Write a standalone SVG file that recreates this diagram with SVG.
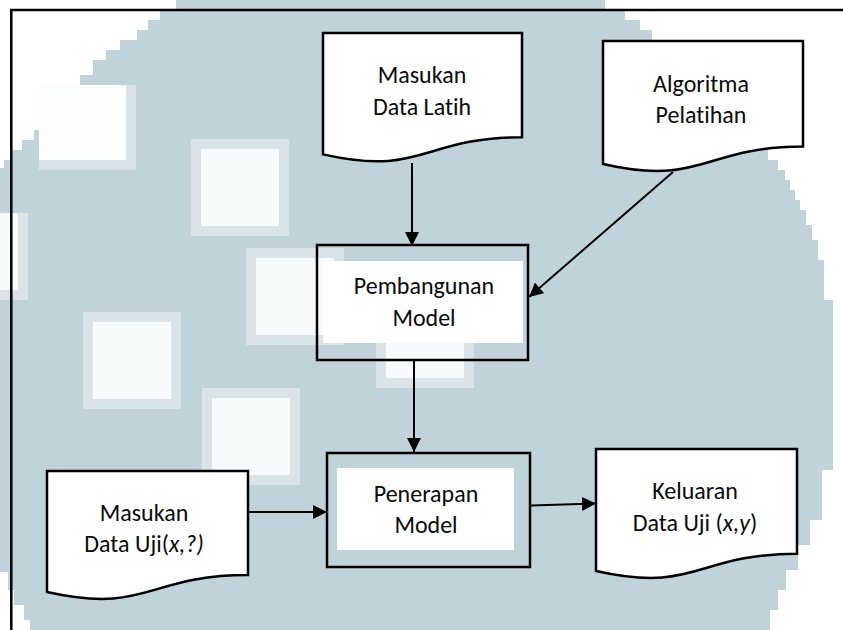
<svg xmlns="http://www.w3.org/2000/svg" width="843" height="630" viewBox="0 0 843 630">
  <style>
    .wm { fill: #c1d3da; }
    .sq-ring { fill: #dae4e8; }
    .sq-core { fill: #f8fbfc; }
    .doc { fill: #ffffff; stroke: #000000; stroke-width: 2.5; stroke-linejoin: miter; }
    .box { fill: none; stroke: #000000; stroke-width: 2.5; }
    .inner { fill: #ffffff; }
    .lbl { font-family: Calibri, Carlito, Lato, sans-serif; font-size: 24px; fill: #0a0a0a; text-anchor: middle; font-variant-ligatures: none; }
    .conn { stroke: #000000; stroke-width: 2; fill: none; marker-end: url(#arrow); }
    .frame { stroke: #000000; stroke-width: 2.5; fill: none; }
  </style>
  <defs>
    <marker id="arrow" markerUnits="userSpaceOnUse" markerWidth="15" markerHeight="14" refX="14" refY="7" orient="auto">
      <path d="M0,0 L14,7 L0,14 z" fill="#000000"/>
    </marker>
    <g id="square">
      <rect class="sq-ring" x="0" y="0" width="98" height="97"/>
      <rect class="sq-core" x="10" y="10" width="78" height="77"/>
    </g>
  </defs>

  <!-- page background -->
  <rect x="0" y="0" width="843" height="630" fill="#ffffff"/>

  <!-- pixelated backdrop emblem -->
  <g id="backdrop">
    <path class="wm" d="M176,0 H605 V10 H625 V20 H640 V30 H652 V40 H662 V50 H690 V140 H760 V150 H768 V160 H778 V170 H785 V180 H790 V190 H795 V200 H800 V210 H806 V225 H812 V240 H818 V260 H824 V300 H833 V470 H822 V520 H810 V545 H798 V570 H786 V590 H778 V610 H770 V630 H30 V620 H24 V605 H14 V590 H8 V572 H0 V168 H4 V160 H12 V150 H22 V140 H34 V130 H60 V85 H80 V75 H93 V60 H106 V50 H120 V40 H137 V30 H148 V20 H160 V10 H176 Z"/>
    <rect x="0" y="213" width="28" height="87" class="sq-core"/>
    <rect x="18" y="213" width="10" height="87" class="sq-ring"/>
    <rect x="0" y="290" width="28" height="10" class="sq-ring"/>
    <rect x="39" y="85" width="97" height="85" class="sq-ring"/>
    <rect x="39" y="85" width="87" height="75" fill="#fbfdfe"/>
    <use href="#square" x="191" y="139"/>
    <use href="#square" x="246" y="248"/>
    <use href="#square" x="83" y="312"/>
    <use href="#square" x="202" y="388"/>
    <use href="#square" x="376" y="291"/>
  </g>

  <!-- outer frame -->
  <g id="frame">
    <path class="frame" d="M10,10 H843 M11.3,9 V630"/>
  </g>

  <!-- connectors -->
  <g id="connectors">
    <line class="conn" x1="412" y1="163" x2="412" y2="246"/>
    <line class="conn" x1="673" y1="172" x2="529" y2="297"/>
    <line class="conn" x1="414" y1="361" x2="414" y2="452"/>
    <line class="conn" x1="249" y1="512" x2="327" y2="512"/>
    <line class="conn" x1="531" y1="505.5" x2="596" y2="503.5"/>
  </g>

  <!-- input document: training data -->
  <g id="masukan-data-latih">
    <path class="doc" d="M323,33 H522 V137.3 C422.5,137.3 422.5,177 323,154.4 Z"/>
    <text class="lbl" x="422" y="83">Masukan</text>
    <text class="lbl" x="422" y="115">Data Latih</text>
  </g>

  <!-- input document: training algorithm -->
  <g id="algoritma-pelatihan">
    <path class="doc" d="M603,41 H803 V146.6 C703,146.6 703,186.9 603,164 Z"/>
    <text class="lbl" x="701" y="92">Algoritma</text>
    <text class="lbl" x="701" y="123">Pelatihan</text>
  </g>

  <!-- process: model building -->
  <g id="pembangunan-model">
    <rect class="inner" x="323" y="261" width="200" height="82"/>
    <rect class="box" x="317" y="245" width="211" height="115"/>
    <text class="lbl" x="424" y="294">Pembangunan</text>
    <text class="lbl" x="424" y="326">Model</text>
  </g>

  <!-- process: model application -->
  <g id="penerapan-model">
    <rect class="inner" x="337" y="468" width="177" height="82"/>
    <rect class="box" x="327" y="453" width="203" height="114"/>
    <text class="lbl" x="426" y="502">Penerapan</text>
    <text class="lbl" x="426" y="533">Model</text>
  </g>

  <!-- input document: test data -->
  <g id="masukan-data-uji">
    <path class="doc" d="M47,471 H248 V575 C147.5,575 147.5,614.5 47,592 Z"/>
    <text class="lbl" x="144" y="521">Masukan</text>
    <text class="lbl" x="144" y="552">Data Uji(<tspan font-style="italic">x,?)</tspan></text>
  </g>

  <!-- output document: labelled test data -->
  <g id="keluaran-data-uji">
    <path class="doc" d="M596,449 H797 V553.8 C696.5,553.8 696.5,593.6 596,571 Z"/>
    <text class="lbl" x="695" y="499">Keluaran</text>
    <text class="lbl" x="695" y="531">Data Uji (<tspan font-style="italic">x,y</tspan>)</text>
  </g>
</svg>
